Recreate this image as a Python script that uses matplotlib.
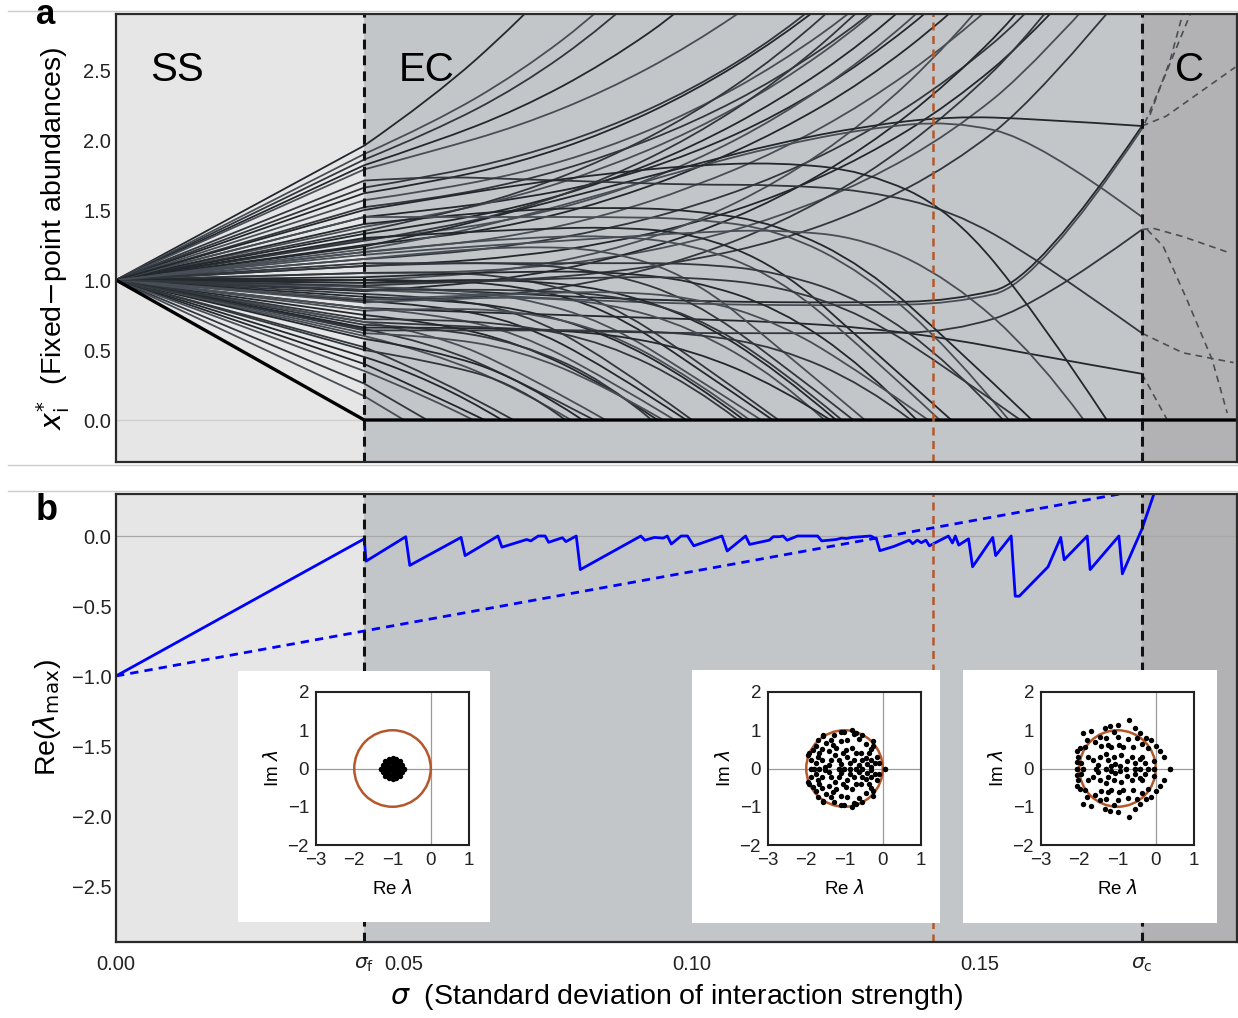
import matplotlib
matplotlib.use("Agg")
import matplotlib.pyplot as plt
from matplotlib.path import Path
from matplotlib.patches import PathPatch, Circle
from matplotlib.lines import Line2D

plt.rcParams['font.family'] = ['Liberation Sans', 'DejaVu Sans']
plt.rcParams['mathtext.fontset'] = 'dejavusans'

# ---------------- data ----------------
sigma_f = 0.0431
sigma_c = 0.1781
sigma_mark = 0.1418
sigma_max = 0.1946
start_abundance = 1.0

sigma_grid = [sigma_f, 0.055, 0.07, 0.085, 0.10, 0.115, 0.13, 0.145, 0.16, sigma_c]

abund_rising = [
    [1.96, 2.30, 2.85, 3.50, 4.5, 4.5, 4.5, 4.5, 4.5, 4.5],
    [1.90, 2.12, 2.48, 2.95, 3.60, 4.5, 4.5, 4.5, 4.5, 4.5],
    [1.86, 2.06, 2.38, 2.82, 3.40, 4.5, 4.5, 4.5, 4.5, 4.5],
    [1.82, 1.98, 2.22, 2.55, 2.98, 3.60, 4.5, 4.5, 4.5, 4.5],
    [1.79, 1.92, 2.10, 2.35, 2.68, 3.10, 3.70, 4.5, 4.5, 4.5],
    [1.66, 1.74, 1.88, 2.08, 2.36, 2.74, 3.25, 3.90, 4.5, 4.5],
    [1.62, 1.70, 1.84, 2.05, 2.34, 2.72, 3.20, 3.90, 4.5, 4.5],
    [1.57, 1.64, 1.76, 1.94, 2.20, 2.54, 2.98, 3.55, 4.5, 4.5],
    [1.52, 1.58, 1.70, 1.88, 2.12, 2.44, 2.86, 3.40, 4.5, 4.5],
    [1.45, 1.50, 1.58, 1.70, 1.90, 2.18, 2.56, 3.05, 3.70, 4.5],
    [1.38, 1.46, 1.60, 1.80, 2.06, 2.40, 2.84, 3.40, 4.5, 4.5],
    [1.35, 1.45, 1.62, 1.86, 2.18, 2.60, 3.15, 3.90, 4.5, 4.5],
    [1.33, 1.40, 1.52, 1.70, 1.95, 2.28, 2.70, 3.25, 4.00, 4.5],
    [1.29, 1.34, 1.44, 1.60, 1.84, 2.16, 2.58, 3.12, 3.80, 4.5],
    [1.28, 1.36, 1.50, 1.72, 2.02, 2.42, 2.95, 3.60, 4.5, 4.5],
    [1.25, 1.30, 1.40, 1.56, 1.78, 2.06, 2.42, 2.90, 3.50, 4.5],
    [1.20, 1.24, 1.32, 1.46, 1.66, 1.92, 2.26, 2.70, 3.25, 4.2],
    [1.15, 1.18, 1.25, 1.36, 1.52, 1.74, 2.04, 2.44, 2.96, 3.8],
    [1.10, 1.12, 1.17, 1.26, 1.40, 1.60, 1.88, 2.26, 2.78, 3.6],
    [1.05, 1.05, 1.08, 1.15, 1.27, 1.45, 1.70, 2.05, 2.55, 3.4],
    [0.98, 0.98, 1.00, 1.05, 1.14, 1.28, 1.50, 1.82, 2.30, 3.2],
    [0.92, 0.95, 1.02, 1.14, 1.32, 1.58, 1.94, 2.42, 3.05, 4.0],
    [1.00, 1.02, 1.08, 1.20, 1.40, 1.70, 2.12, 2.70, 3.45, 4.5],
    [0.86, 0.86, 0.90, 1.00, 1.16, 1.40, 1.74, 2.20, 2.80, 3.8],
]

abund_surviving = [
    [1.24, 1.34, 1.50, 1.66, 1.82, 1.98, 2.10, 2.17, 2.15, 2.10],
    [1.22, 1.30, 1.45, 1.62, 1.80, 1.96, 2.08, 2.14, 2.00, 1.45],
    [0.70, 0.68, 0.65, 0.63, 0.62, 0.62, 0.62, 0.63, 0.82, 1.36],
    [0.95, 0.93, 0.90, 0.87, 0.85, 0.84, 0.84, 0.85, 1.00, 2.10],
    [0.93, 0.91, 0.88, 0.85, 0.83, 0.82, 0.82, 0.83, 0.97, 2.08],
    [1.71, 1.74, 1.72, 1.70, 1.68, 1.68, 1.64, 1.50, 1.15, 0.62],
    [0.80, 0.78, 0.76, 0.74, 0.72, 0.70, 0.66, 0.58, 0.46, 0.33],
]

abund_extinct = [
    [0.17, 0.00, 0, 0, 0, 0, 0, 0, 0, 0],
    [0.26, 0.00, 0, 0, 0, 0, 0, 0, 0, 0],
    [0.40, 0.18, 0, 0, 0, 0, 0, 0, 0, 0],
    [0.35, 0.15, 0, 0, 0, 0, 0, 0, 0, 0],
    [0.52, 0.32, 0, 0, 0, 0, 0, 0, 0, 0],
    [0.45, 0.30, 0, 0, 0, 0, 0, 0, 0, 0],
    [0.60, 0.48, 0.22, 0, 0, 0, 0, 0, 0, 0],
    [0.65, 0.55, 0.28, 0, 0, 0, 0, 0, 0, 0],
    [0.58, 0.50, 0.30, 0, 0, 0, 0, 0, 0, 0],
    [0.70, 0.62, 0.35, 0, 0, 0, 0, 0, 0, 0],
    [0.50, 0.42, 0.25, 0, 0, 0, 0, 0, 0, 0],
    [0.75, 0.70, 0.55, 0.25, 0, 0, 0, 0, 0, 0],
    [0.80, 0.76, 0.62, 0.30, 0, 0, 0, 0, 0, 0],
    [0.68, 0.66, 0.55, 0.28, 0, 0, 0, 0, 0, 0],
    [0.85, 0.82, 0.70, 0.38, 0, 0, 0, 0, 0, 0],
    [0.62, 0.60, 0.50, 0.24, 0, 0, 0, 0, 0, 0],
    [0.90, 0.88, 0.78, 0.45, 0, 0, 0, 0, 0, 0],
    [0.88, 0.86, 0.80, 0.62, 0.28, 0, 0, 0, 0, 0],
    [0.95, 0.94, 0.88, 0.70, 0.32, 0, 0, 0, 0, 0],
    [0.72, 0.72, 0.68, 0.55, 0.25, 0, 0, 0, 0, 0],
    [1.00, 1.00, 0.96, 0.80, 0.40, 0, 0, 0, 0, 0],
    [0.78, 0.80, 0.78, 0.64, 0.30, 0, 0, 0, 0, 0],
    [1.05, 1.06, 1.02, 0.85, 0.45, 0, 0, 0, 0, 0],
    [0.98, 1.00, 1.00, 0.94, 0.74, 0.35, 0, 0, 0, 0],
    [0.84, 0.86, 0.88, 0.84, 0.66, 0.30, 0, 0, 0, 0],
    [1.10, 1.12, 1.12, 1.06, 0.86, 0.42, 0, 0, 0, 0],
    [0.66, 0.66, 0.65, 0.62, 0.50, 0.24, 0, 0, 0, 0],
    [1.15, 1.20, 1.24, 1.22, 1.02, 0.52, 0, 0, 0, 0],
    [0.93, 0.93, 0.93, 0.90, 0.76, 0.38, 0, 0, 0, 0],
    [1.02, 1.04, 1.06, 1.06, 1.00, 0.80, 0.38, 0, 0, 0],
    [1.20, 1.25, 1.30, 1.32, 1.26, 1.02, 0.50, 0, 0, 0],
    [0.64, 0.64, 0.64, 0.64, 0.62, 0.52, 0.25, 0, 0, 0],
    [1.30, 1.33, 1.36, 1.38, 1.34, 1.10, 0.55, 0, 0, 0],
    [0.86, 0.88, 0.90, 0.92, 0.88, 0.70, 0.32, 0, 0, 0],
    [1.12, 1.12, 1.12, 1.12, 1.12, 1.06, 0.85, 0.40, 0, 0],
    [1.40, 1.45, 1.50, 1.52, 1.50, 1.40, 1.10, 0.55, 0, 0],
    [1.45, 1.45, 1.45, 1.45, 1.44, 1.36, 1.05, 0.50, 0, 0],
    [0.96, 0.98, 1.00, 1.02, 1.02, 0.96, 0.75, 0.35, 0, 0],
    [1.50, 1.58, 1.68, 1.76, 1.82, 1.84, 1.78, 1.50, 0.75, 0],
    [1.18, 1.22, 1.26, 1.30, 1.34, 1.36, 1.30, 1.00, 0.45, 0],
]

# sigma at which each species of abund_extinct reaches zero
extinction_sigma = [0.050, 0.054, 0.064, 0.062, 0.069, 0.067,
                    0.079, 0.083, 0.081, 0.085, 0.078,
                    0.094, 0.097, 0.093, 0.099, 0.095, 0.100,
                    0.109, 0.112, 0.108, 0.114, 0.110, 0.115,
                    0.125, 0.123, 0.128, 0.124, 0.130, 0.126,
                    0.139, 0.143, 0.138, 0.145, 0.141,
                    0.154, 0.159, 0.155, 0.157,
                    0.172, 0.168]

# first extinction (defines sigma_f)
first_extinct_sigma = [0.0, sigma_f, sigma_max]
first_extinct_vals = [1.0, 0.0, 0.0]

# unstable continuation beyond sigma_c (dashed)
cont_sigma = [
    [0.1786, 0.1818, 0.1870],
    [0.1795, 0.1830, 0.1855],
    [0.1781, 0.1823, 0.1943],
    [0.1781, 0.1800, 0.1852, 0.1936],
    [0.1790, 0.1818, 0.1859, 0.1903, 0.1929],
    [0.1781, 0.1852, 0.1940],
    [0.1781, 0.1825],
]
cont_vals = [
    [2.12, 2.43, 2.95],
    [2.18, 2.57, 2.95],
    [2.10, 2.17, 2.52],
    [1.36, 1.37, 1.31, 1.19],
    [1.36, 1.24, 0.86, 0.43, 0.05],
    [0.62, 0.48, 0.41],
    [0.33, 0.0],
]

# panel b: leading eigenvalue
lam_sigma = [0.0, 0.0431, 0.0434, 0.0503, 0.0510, 0.0599, 0.0606, 0.0663, 0.0670, 0.0713,
             0.0720, 0.0733, 0.0745, 0.0751, 0.0775, 0.0781, 0.0799, 0.0806, 0.0911, 0.0918,
             0.0935, 0.0950, 0.0957, 0.0964, 0.0981, 0.0992, 0.1003, 0.1052, 0.1061, 0.1093,
             0.1100, 0.1134, 0.1141, 0.1152, 0.1158, 0.1165, 0.1183, 0.1218, 0.1225, 0.1250,
             0.1260, 0.1268, 0.1278, 0.1310, 0.1320, 0.1326, 0.1350, 0.1377, 0.1383, 0.1391,
             0.1398, 0.1406, 0.1412, 0.1445, 0.1452, 0.1457, 0.1463, 0.1480, 0.1487, 0.1522,
             0.1527, 0.1554, 0.1561, 0.1568, 0.1618, 0.1640, 0.1646, 0.1686, 0.1691, 0.1741,
             0.1747, 0.1781, 0.1810]
lam_max = [-1.0, -0.02, -0.18, -0.005, -0.21, -0.01, -0.14, 0.0, -0.08, -0.025,
           -0.035, 0.0, 0.0, -0.045, -0.012, -0.04, 0.0, -0.24, 0.0, -0.03,
           -0.01, -0.015, 0.0, -0.057, 0.0, 0.0, -0.07, 0.0, -0.107, 0.0,
           -0.06, -0.03, -0.005, -0.005, 0.0, -0.03, 0.0, 0.0, -0.035, -0.025,
           -0.015, -0.018, -0.01, 0.0, -0.02, -0.105, -0.075, -0.03, -0.055, -0.03,
           -0.048, -0.03, -0.07, 0.0, -0.05, 0.0, -0.065, -0.02, -0.22, -0.01,
           -0.14, 0.0, -0.43, -0.43, -0.22, -0.01, -0.17, 0.0, -0.24, 0.0,
           -0.27, 0.05, 0.40]
bound_sigma = [0.0, sigma_max]
bound_vals = [-1.0, 0.452]

# insets: eigenvalues (upper half-plane; conjugates mirrored)
eig1_re = [-0.71, -0.74, -0.81, -0.90, -1.00, -1.10, -1.19, -1.26, -1.29, -0.84, -0.92,
           -1.00, -1.08, -1.16, -0.90, -1.00, -1.10, -0.80, -0.88, -0.96, -1.04, -1.12, -1.20]
eig1_im = [0.00, 0.10, 0.19, 0.25, 0.28, 0.25, 0.19, 0.10, 0.00, 0.10, 0.16,
           0.18, 0.16, 0.09, 0.04, 0.08, 0.04, 0.00, 0.00, 0.00, 0.00, 0.00, 0.00]

eig2_re = [-0.80, -1.27, -1.70, -1.48, -1.10, -0.93, -0.62, -0.45, -0.32, -0.15, -0.11, -1.83,
           -1.66, -1.40, -1.23, -0.97, -0.80, -0.58, -0.45, -1.88, -1.75, -1.58, -1.36, -1.15,
           -0.93, -0.76, -0.54, -0.32, -1.10, -1.40, -0.32, -1.95, -0.25, -1.55, -1.02, -0.70,
           -1.55, -1.35, -0.75, -0.55, -0.25, -1.75, -1.60, -1.25, -1.05, -0.70, -0.35, -0.20,
           -1.50, -0.85, -0.62, -1.92, -1.10, -0.40, -1.70, -1.30,
           -1.88, -1.79, -1.66, -1.15, -1.01, -0.71, -0.54, 0.07, -0.86]
eig2_im = [1.01, 0.88, 0.75, 0.66, 0.71, 0.75, 0.77, 0.65, 0.51, 0.31, 0.14, 0.49,
           0.40, 0.45, 0.53, 0.49, 0.53, 0.40, 0.27, 0.23, 0.14, 0.23, 0.23, 0.23,
           0.31, 0.23, 0.23, 0.23, 0.12, 0.10, 0.05, 0.35, 0.72, 0.88, 0.95, 0.92,
           0.85, 0.75, 0.90, 0.88, 0.60, 0.60, 0.50, 0.35, 0.40, 0.40, 0.40, 0.15,
           0.05, 0.15, 0.10, 0.40, 0.95, 0.12, 0.30, 0.62,
           0.00, 0.00, 0.00, 0.00, 0.00, 0.00, 0.00, 0.00, 0.00]

eig3_re = [-0.70, -0.98, -1.20, -1.33, -1.68, -1.90, -0.42, -0.13, -0.72, -1.00, -1.46, -1.16,
           -1.24, -1.42, -1.98, -1.77, -1.63, -1.46, -0.90, -0.63, -0.37, -0.20, 0.10, 0.22,
           -1.24, -1.07, -2.03, -2.07, -0.29, -0.55, -1.16, -0.94, -1.80, -0.25, -0.55, -1.10,
           -0.85, -0.60, -1.95, -0.05, -1.30, -0.75,
           -0.35, -1.85, -1.60, -1.30, -0.95, -0.50, 0.00, -2.05, -1.50, -0.40, -1.10,
           0.37, -0.77, -0.55, -0.42, -0.20, -2.07, -1.90, -0.05, -1.55, -1.30]
eig3_im = [1.26, 1.14, 1.12, 1.06, 0.97, 0.94, 0.94, 0.75, 0.77, 0.82, 0.82, 0.56,
           0.62, 0.58, 0.53, 0.31, 0.23, 0.31, 0.36, 0.31, 0.31, 0.53, 0.47, 0.31,
           0.23, 0.12, 0.31, 0.16, 0.14, 0.14, 0.07, 0.07, 0.75, 0.80, 1.05, 0.95,
           0.55, 0.55, 0.15, 0.20, 0.38, 0.20,
           0.65, 0.55, 0.70, 0.80, 0.62, 0.80, 0.60, 0.45, 0.10, 0.25, 0.30,
           0.0, 0.0, 0.0, 0.0, 0.0, 0.0, 0.0, 0.0, 0.0, 0.0]

xtick_vals = [0.0, sigma_f, 0.05, 0.10, 0.15, sigma_c]
xtick_labels = ['0.00', r'$\sigma_{\mathrm{f}}$', '0.05', '0.10', '0.15', r'$\sigma_{\mathrm{c}}$']
ya_ticks = [0.0, 0.5, 1.0, 1.5, 2.0, 2.5]
ya_labels = ['0.0', '0.5', '1.0', '1.5', '2.0', '2.5']
yb_ticks = [0.0, -0.5, -1.0, -1.5, -2.0, -2.5]
yb_labels = ['0.0', '\u22120.5', '\u22121.0', '\u22121.5', '\u22122.0', '\u22122.5']
region_labels = ['SS', 'EC', 'C']

# ---------------- styling ----------------
W, H = 1238, 1018
C_SS = '#e6e6e6'
C_EC = '#c3c6c9'
C_C = '#b2b2b4'
ORANGE = '#b4582b'
LINE_COLS = ['#23282d', '#474e55', '#31373d']

fig = plt.figure(figsize=(W / 100, H / 100), dpi=100)
fig.patch.set_facecolor('white')


def fax(x0, y0, x1, y1):
    return fig.add_axes([x0 / W, 1 - y1 / H, (x1 - x0) / W, (y1 - y0) / H])


axA = fax(116, 14, 1237, 462)
axB = fax(116, 494, 1237, 942)

for ax in (axA, axB):
    ax.set_xlim(0, sigma_max)
    ax.axvspan(0, sigma_f, color=C_SS, lw=0, zorder=0)
    ax.axvspan(sigma_f, sigma_c, color=C_EC, lw=0, zorder=0)
    ax.axvspan(sigma_c, sigma_max, color=C_C, lw=0, zorder=0)
    for s in ax.spines.values():
        s.set_color('#2a2a2a')
        s.set_linewidth(1.6)
        s.set_zorder(20)
    ax.tick_params(length=0, labelsize=14.5, colors='#222222')
    ax.axvline(sigma_f, color='#111111', lw=2.2, ls=(0, (3.2, 2.0)), zorder=10)
    ax.axvline(sigma_c, color='#111111', lw=2.2, ls=(0, (3.2, 2.0)), zorder=10)
    ax.axvline(sigma_mark, color=ORANGE, lw=1.8, ls=(0, (3.2, 2.2)), zorder=10)

# ---- panel a ----
axA.set_ylim(-0.3, 2.9)
axA.axhline(0, color='#cfcfcf', lw=1.0, zorder=1)


def smooth_path(xs, ys, ext=None):
    xs = list(xs)
    ys = list(ys)
    # stop a trajectory where the species goes extinct
    for j in range(1, len(ys)):
        if ys[j] == 0:
            xs, ys = xs[:j + 1], ys[:j + 1]
            if ext is not None:
                xs[j] = ext
            break
    verts = [(0.0, start_abundance), (xs[0], ys[0])]
    codes = [Path.MOVETO, Path.LINETO]
    n = len(xs)
    if n == 2:
        verts.append((xs[1], ys[1]))
        codes.append(Path.LINETO)
    for i in range(1, n - 1):
        end = ((xs[i] + xs[i + 1]) / 2, (ys[i] + ys[i + 1]) / 2) if i < n - 2 else (xs[-1], ys[-1])
        verts += [(xs[i], ys[i]), end]
        codes += [Path.CURVE3, Path.CURVE3]
    return Path(verts, codes)


all_rows = abund_rising + abund_surviving + abund_extinct
all_ext = [None] * (len(abund_rising) + len(abund_surviving)) + extinction_sigma
for k, (row, ext) in enumerate(zip(all_rows, all_ext)):
    p = smooth_path(sigma_grid, row, ext)
    axA.add_patch(PathPatch(p, fill=False, ec=LINE_COLS[k % 3], lw=1.3, zorder=3))

for xs, ys in zip(cont_sigma, cont_vals):
    axA.plot(xs, ys, color='#4a4f55', lw=1.2, ls=(0, (4, 3)), zorder=3)

axA.plot(first_extinct_sigma, first_extinct_vals, color='black', lw=2.4, zorder=6,
         solid_capstyle='butt')

axA.set_xticks([])
axA.set_yticks(ya_ticks)
axA.set_yticklabels(ya_labels)
axA.set_ylabel(r'$x_{\mathrm{i}}^{*}$  (Fixed$-$point abundances)', fontsize=20.5, labelpad=8)

axA.text(0.0060, 2.5, region_labels[0], fontsize=29, va='center', ha='left', zorder=12)
axA.text(0.0490, 2.5, region_labels[1], fontsize=29, va='center', ha='left', zorder=12)
axA.text(0.1838, 2.5, region_labels[2], fontsize=29, va='center', ha='left', zorder=12)

# ---- panel b ----
axB.set_ylim(-2.9, 0.3)
axB.axhline(0, color='#a8a8a8', lw=0.9, zorder=1)
axB.plot(bound_sigma, bound_vals, color='#0000ff', lw=2.0, ls=(0, (3, 2.2)), zorder=5)
axB.plot(lam_sigma, lam_max, color='#0000ff', lw=2.0, zorder=6)
axB.set_yticks(yb_ticks)
axB.set_yticklabels(yb_labels)
axB.set_xticks(xtick_vals)
axB.set_xticklabels(xtick_labels)
axB.tick_params(axis='x', pad=9)
axB.set_ylabel(r'Re($\lambda_{\mathrm{max}}$)', fontsize=20.5, labelpad=6)
axB.set_xlabel(r'$\sigma$  (Standard deviation of interaction strength)', fontsize=20.5, labelpad=6)

# ---- insets ----
inset_boxes = [(238, 671, 490, 922), (692, 670, 940, 923), (963, 670, 1217, 923)]
inset_inner = [(316, 692, 469, 845), (768, 692, 921, 845), (1041, 692, 1194, 845)]
eig_sets = [(eig1_re, eig1_im), (eig2_re, eig2_im), (eig3_re, eig3_im)]

for box, inner, (er, ei) in zip(inset_boxes, inset_inner, eig_sets):
    bx = fax(*box)
    bx.set_facecolor('white')
    bx.set_xticks([])
    bx.set_yticks([])
    for s in bx.spines.values():
        s.set_visible(False)
    ax = fax(*inner)
    ax.set_xlim(-3, 1)
    ax.set_ylim(-2, 2)
    ax.axhline(0, color='#9a9a9a', lw=0.9, zorder=1)
    ax.axvline(0, color='#9a9a9a', lw=0.9, zorder=1)
    ax.add_patch(Circle((-1, 0), 1, fill=False, ec=ORANGE, lw=1.8, zorder=3))
    ax.scatter(er, ei, s=15, color='black', zorder=4, linewidths=0)
    ax.scatter(er, [-v for v in ei], s=15, color='black', zorder=4, linewidths=0)
    ax.set_xticks([-3, -2, -1, 0, 1])
    ax.set_yticks([-2, -1, 0, 1, 2])
    ax.tick_params(length=0, labelsize=13.5, pad=5, colors='#222222')
    for s in ax.spines.values():
        s.set_color('#222222')
        s.set_linewidth(1.5)
    ax.set_xlabel(r'Re $\lambda$', fontsize=13.5, labelpad=7)
    ax.set_ylabel(r'Im $\lambda$', fontsize=13.5, labelpad=4)

# ---- figure decorations ----
for yy in (11, 465, 491):
    fig.add_artist(Line2D([8 / W, 1.0], [1 - yy / H] * 2, color='#cccccc', lw=1.0,
                          transform=fig.transFigure))
fig.text(36 / W, 1 - 24 / H, 'a', fontsize=25, fontweight='bold', ha='left', va='baseline')
fig.text(36 / W, 1 - 520 / H, 'b', fontsize=26, fontweight='bold', ha='left', va='baseline')

fig.savefig('out.png', dpi=100, facecolor='white')
